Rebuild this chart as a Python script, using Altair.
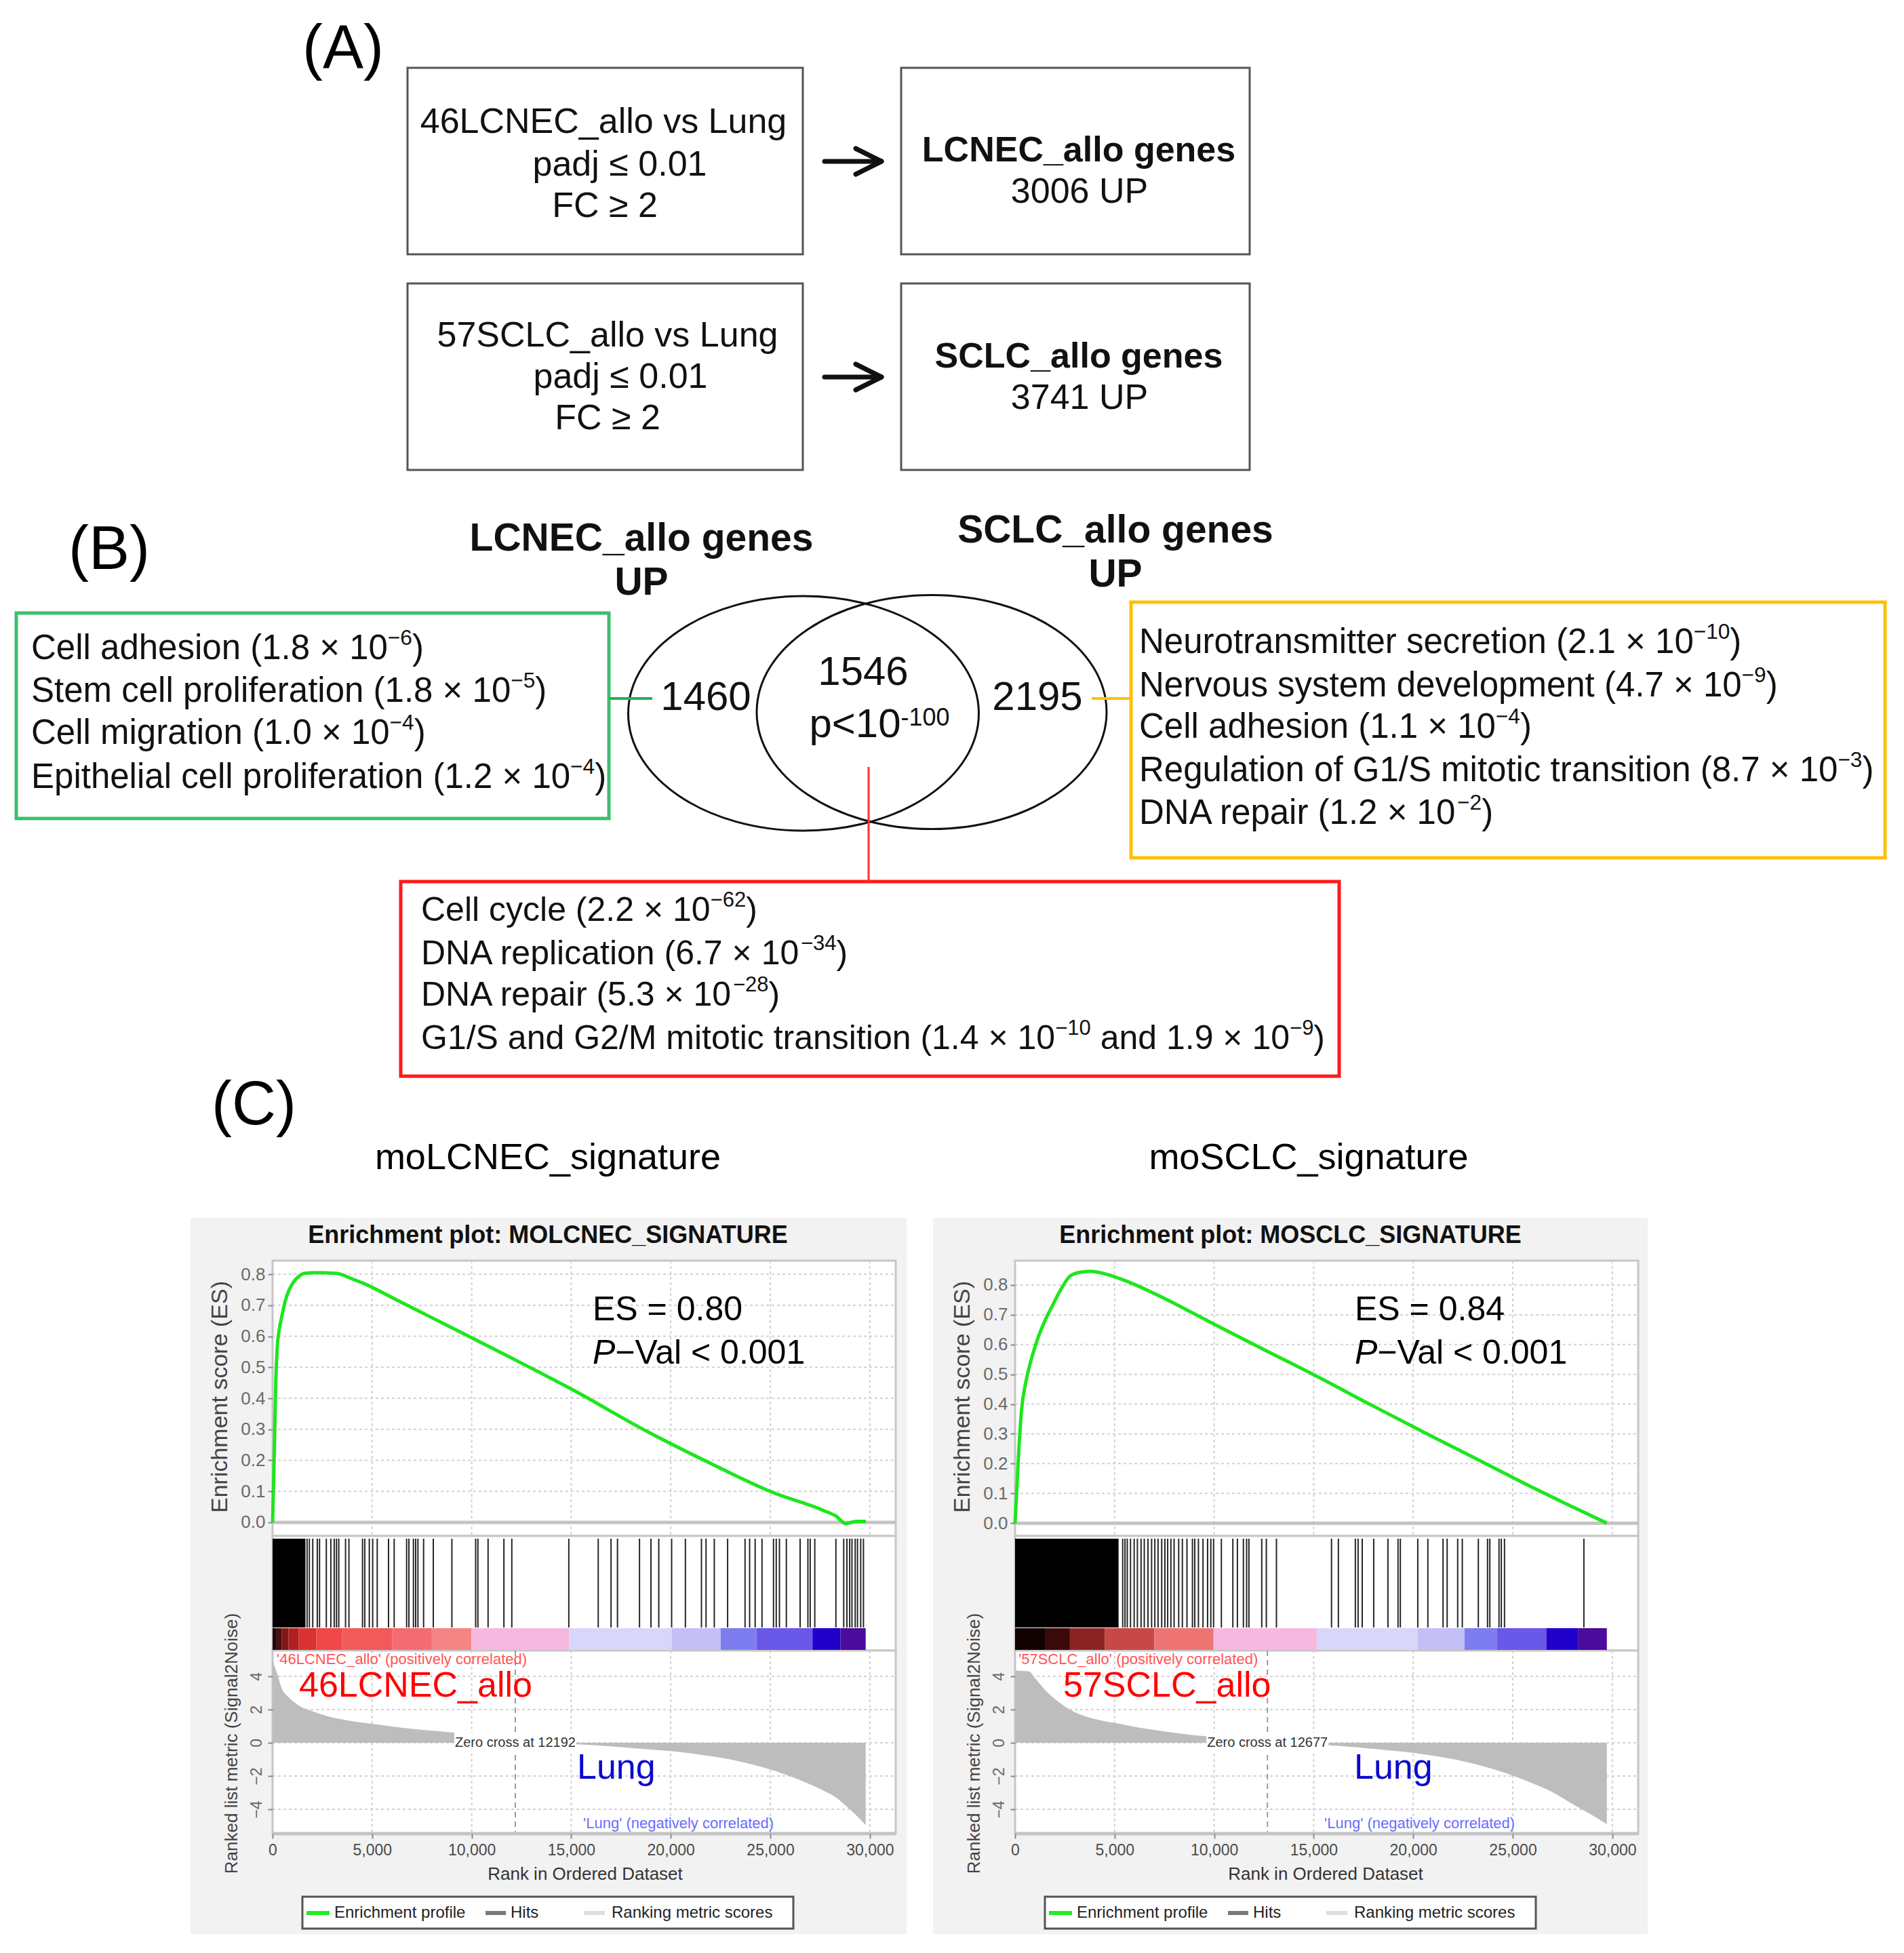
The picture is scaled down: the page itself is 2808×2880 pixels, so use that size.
import altair as alt
import pandas as pd

W, H, M = 2792, 2864, 8
FONT = "Liberation Sans, Arial, Helvetica, sans-serif"

# ===================== DATA =====================
# Panel A
A_QUERY_1 = ["46LCNEC_allo vs Lung", "padj ≤ 0.01", "FC ≥ 2"]
A_QUERY_2 = ["57SCLC_allo vs Lung", "padj ≤ 0.01", "FC ≥ 2"]
A_RESULT_NAMES = ["LCNEC_allo genes", "SCLC_allo genes"]
A_RESULT_COUNTS = ["3006 UP", "3741 UP"]

# Panel B
B_SET_NAMES = ["LCNEC_allo genes", "SCLC_allo genes"]
B_COUNTS = ["1460", "1546", "2195"]
B_P = "p<10^{-100}"
B_GO_LCNEC = ["Cell adhesion (1.8 × 10^{−6})",
              "Stem cell proliferation (1.8 × 10^{−5})",
              "Cell migration (1.0 × 10^{−4})",
              "Epithelial cell proliferation (1.2 × 10^{−4})"]
B_GO_SCLC = ["Neurotransmitter secretion (2.1 × 10^{−10})",
             "Nervous system development (4.7 × 10^{−9})",
             "Cell adhesion (1.1 × 10^{−4})",
             "Regulation of G1/S mitotic transition (8.7 × 10^{−3})",
             "DNA repair (1.2 × 10^{−2})"]
B_GO_SHARED = ["Cell cycle (2.2 × 10^{−62})",
               "DNA replication (6.7 × 10^{−34})",
               "DNA repair (5.3 × 10^{−28})",
               "G1/S and G2/M mitotic transition (1.4 × 10^{−10} and 1.9 × 10^{−9})"]

# Panel C
C_HEADERS = ["moLCNEC_signature", "moSCLC_signature"]
C_TITLES = ["Enrichment plot: MOLCNEC_SIGNATURE", "Enrichment plot: MOSCLC_SIGNATURE"]
C_ES_TEXT = ["ES = 0.80", "ES = 0.84"]
C_GROUPS = ["46LCNEC_allo", "57SCLC_allo"]
C_ZERO_CROSS = [12192, 12677]

X_TICKS = [0, 5000, 10000, 15000, 20000, 25000, 30000]
ES_TICKS = [0.0, 0.1, 0.2, 0.3, 0.4, 0.5, 0.6, 0.7, 0.8]
MET_TICKS = [-4, -2, 0, 2, 4]

L_ES_RANK = [0, 60, 110, 160, 230, 330, 450, 620, 800, 1050, 1300, 1600, 2200, 3200, 4000,
             4600, 6000, 8000, 9700, 12000, 15000, 18900, 22000, 25100, 27600, 28300, 28800,
             29300, 29800]
L_ES_VAL = [0.0, 0.15, 0.30, 0.45, 0.56, 0.62, 0.66, 0.71, 0.745, 0.775, 0.792, 0.803, 0.805,
            0.803, 0.785, 0.77, 0.725, 0.66, 0.605, 0.53, 0.43, 0.29, 0.19, 0.097, 0.04, 0.02,
            -0.004, 0.003, 0.003]
R_ES_RANK = [0, 100, 200, 335, 500, 681, 900, 1142, 1500, 1834, 2300, 2756, 3200, 3794, 4500,
             5522, 7500, 9671, 12300, 14970, 18000, 21195, 23500, 25806, 28000, 29725]
R_ES_VAL = [0.0, 0.13, 0.26, 0.386, 0.46, 0.516, 0.57, 0.621, 0.68, 0.725, 0.785, 0.83, 0.842,
            0.846, 0.838, 0.815, 0.755, 0.68, 0.59, 0.50, 0.393, 0.283, 0.205, 0.126, 0.055, 0.0]

L_DENSE = [0, 1650]
L_HITS = [1733, 1847, 2017, 2245, 2358, 2699, 2926, 3097, 3210, 3324, 3665, 3835, 4517, 4630,
          4858, 5028, 5256, 5824, 6108, 6733, 6846, 7074, 7187, 7301, 7585, 8073, 9006, 10200,
          10313, 10824, 11619, 12017, 14880, 16356, 17000, 17324, 18430, 19006, 19398, 20044,
          20735, 21542, 21772, 22187, 22856, 23732, 23962, 24239, 24584, 25161, 25299, 25460,
          25806, 26497, 26889, 27004, 27235, 28295, 28687, 28849, 28987, 29102, 29264, 29380,
          29541, 29679]
R_DENSE = [0, 5200]
R_HITS = [5407, 5522, 5637, 5799, 5983, 6144, 6329, 6490, 6675, 6859, 7020, 7182, 7366, 7527,
          7666, 7827, 7988, 8219, 8403, 8634, 8910, 9025, 9210, 9440, 9671, 9832, 9971, 10363,
          10939, 11169, 11469, 11630, 11746, 12391, 12621, 13129, 15895, 16240, 17093, 17231,
          17439, 18015, 18730, 19236, 19352, 20228, 20735, 21496, 21703, 22233, 22464, 23270,
          23732, 23847, 24308, 24423, 24584, 28572]

L_BAR_START = [0, 200, 450, 800, 1300, 2200, 3500, 6000, 8000, 9990, 14900, 20044, 22510,
               24307, 27119, 28525]
L_BAR_END = [200, 450, 800, 1300, 2200, 3500, 6000, 8000, 9990, 14900, 20044, 22510, 24307,
             27119, 28525, 29790]
L_BAR_COLOR = ["#1e0404", "#4a0d0d", "#801616", "#b02020", "#d83232", "#f04848", "#f25a5a",
               "#f46c72", "#f58585", "#f7b8df", "#d8d6fa", "#c4c0f5", "#7d7df0", "#6a58e8",
               "#2200cc", "#4b0b9b"]
R_BAR_START = [0, 1500, 2756, 4500, 7000, 9971, 15158, 20228, 22579, 24193, 26682, 28296]
R_BAR_END = [1500, 2756, 4500, 7000, 9971, 15158, 20228, 22579, 24193, 26682, 28296, 29725]
R_BAR_COLOR = ["#120202", "#3a0a0a", "#8a2424", "#c84848", "#ee7474", "#f7b8df", "#d8d6fa",
               "#c4c0f5", "#7d7df0", "#6a58e8", "#2200cc", "#4b0b9b"]

L_MET_RANK = [0, 100, 220, 450, 800, 1370, 2000, 2750, 4000, 5060, 6200, 7370, 8300, 9200,
              10500, 11500, 12192, 13000, 15430, 17000, 18890, 20000, 21200, 22400, 23500,
              24700, 25800, 26800, 27650, 28300, 28800, 29300, 29790]
L_MET_VAL = [5.0, 4.6, 4.2, 3.3, 2.75, 2.2, 1.9, 1.6, 1.3, 1.13, 0.95, 0.8, 0.7, 0.6, 0.42,
             0.25, 0.0, -0.05, -0.1, -0.22, -0.4, -0.5, -0.67, -0.88, -1.13, -1.5, -1.93,
             -2.4, -2.87, -3.3, -3.8, -4.35, -4.95]
R_MET_RANK = [0, 700, 1000, 1600, 2200, 2750, 3500, 4300, 5060, 6200, 7370, 8500, 9670, 10800,
              11900, 12677, 13500, 15430, 17200, 18890, 20000, 21200, 22400, 23500, 24700,
              25800, 27000, 28100, 28900, 29725]
R_MET_VAL = [4.35, 4.3, 3.9, 3.06, 2.45, 2.0, 1.6, 1.35, 1.18, 0.92, 0.7, 0.52, 0.38, 0.25, 0.1,
             0.0, -0.05, -0.12, -0.28, -0.47, -0.6, -0.82, -1.08, -1.41, -1.85, -2.35, -2.98,
             -3.76, -4.3, -4.9]

LEGEND_ITEMS = ["Enrichment profile", "Hits", "Ranking metric scores"]

# ===================== HELPERS =====================
AW = {' ': 278, '(': 333, ')': 333, '.': 278, ',': 278, '×': 584, '−': 584, '-': 333,
      '_': 556, '<': 584, '=': 584, '/': 278, '≤': 549, '≥': 549, "'": 191,
      'A': 667, 'B': 667, 'C': 722, 'D': 722, 'E': 667, 'F': 611, 'G': 778, 'H': 722,
      'I': 278, 'J': 500, 'K': 667, 'L': 556, 'M': 833, 'N': 722, 'O': 778, 'P': 667,
      'Q': 778, 'R': 722, 'S': 667, 'T': 611, 'U': 722, 'V': 667, 'W': 944, 'X': 667,
      'Y': 667, 'Z': 611, 'a': 556, 'b': 556, 'c': 500, 'd': 556, 'e': 556, 'f': 278,
      'g': 556, 'h': 556, 'i': 222, 'j': 222, 'k': 500, 'l': 222, 'm': 833, 'n': 556,
      'o': 556, 'p': 556, 'q': 556, 'r': 333, 's': 500, 't': 278, 'u': 556, 'v': 500,
      'w': 722, 'x': 500, 'y': 500, 'z': 500}


def tw(s, size):
    return sum(AW.get(ch, 556) for ch in s) * size / 1000.0


def rich(line, x, y, size, color="#000000", anchor="left", sup_scale=0.62, raise_frac=0.3):
    segs, buf, i = [], "", 0
    while i < len(line):
        if line.startswith("^{", i):
            if buf:
                segs.append((buf, False))
                buf = ""
            j = line.index("}", i)
            segs.append((line[i + 2:j], True))
            i = j + 1
        else:
            buf += line[i]
            i += 1
    if buf:
        segs.append((buf, False))
    total = sum(tw(t, size * sup_scale if s else size) for t, s in segs)
    cur = x - total / 2 if anchor == "center" else x
    rows = []
    for t, s in segs:
        sz = size * sup_scale if s else size
        lead = len(t) - len(t.lstrip(" "))
        cur += tw(" " * lead, sz)
        body = t.lstrip(" ")
        rows.append(dict(x=cur, y=y - (raise_frac * size if s else 0), text=body, size=sz,
                         color=color))
        cur += tw(body, sz)
    return rows


CX = alt.Scale(domain=[M, W + M], range=[0, W], nice=False, zero=False)
CY = alt.Scale(domain=[M, H + M], range=[0, H], nice=False, zero=False)


def cx(f):
    return alt.X(f, type="quantitative", scale=CX, axis=None)


def cy(f):
    return alt.Y(f, type="quantitative", scale=CY, axis=None)


def rects(rows, **mk):
    df = pd.DataFrame(rows, columns=["x1", "y1", "x2", "y2"])
    return alt.Chart(df).mark_rect(**mk).encode(x=cx("x1"), x2=alt.X2("x2"), y=cy("y1"),
                                                y2=alt.Y2("y2"))


def rules(rows, **mk):
    df = pd.DataFrame(rows, columns=["x1", "y1", "x2", "y2"])
    return alt.Chart(df).mark_rule(**mk).encode(x=cx("x1"), x2=alt.X2("x2"), y=cy("y1"),
                                                y2=alt.Y2("y2"))


def texts(rows, align="left", weight="normal", style="normal", angle=0):
    df = pd.DataFrame(rows)
    return alt.Chart(df).mark_text(align=align, baseline="middle", font=FONT, fontWeight=weight,
                                   fontStyle=style, angle=angle).encode(
        x=cx("x"), y=cy("y"), text="text:N",
        size=alt.Size("size:Q", scale=None), color=alt.Color("color:N", scale=None))


units = []
T_left, T_center, T_bold, T_italic, T_rot = [], [], [], [], []

# ===================== PANEL C: GSEA =====================
X_MAX = 31300
ES_TOP, ES_BOT = 1859, 2265
HIT_TOP, HIT_BOT = 2269, 2400
BAR_TOP, BAR_BOT = 2401, 2433
MET_TOP, MET_BOT = 2434, 2704
MET_DOMAIN = [-5.47, 5.55]

PANELS = [
    dict(dx=0, es_dom=[-0.044, 0.844], es_rank=L_ES_RANK, es_val=L_ES_VAL, dense=L_DENSE,
         hits=L_HITS, bs=L_BAR_START, be=L_BAR_END, bc=L_BAR_COLOR, mr=L_MET_RANK,
         mv=L_MET_VAL, zc=C_ZERO_CROSS[0], head_x=808, title_x=808, es_x=874,
         grp=C_GROUPS[0], grp_x=441, lung_x=851, neg_x=860, xt_x=863, pos_x=408),
    dict(dx=1095, es_dom=[-0.043, 0.882], es_rank=R_ES_RANK, es_val=R_ES_VAL, dense=R_DENSE,
         hits=R_HITS, bs=R_BAR_START, be=R_BAR_END, bc=R_BAR_COLOR, mr=R_MET_RANK,
         mv=R_MET_VAL, zc=C_ZERO_CROSS[1], head_x=1930, title_x=1903, es_x=1998,
         grp=C_GROUPS[1], grp_x=1568, lung_x=1997, neg_x=1953, xt_x=1955, pos_x=1502),
]

# panel backgrounds & plot frames
bg_rows, frame_rows = [], []
for P in PANELS:
    dx = P["dx"]
    x0, x1 = 402 + dx, 1321 + dx
    bg_rows.append([281 + dx, 1796, 1337 + dx if dx == 0 else 2430, 2852])
    frame_rows += [[x0, ES_TOP, x1, ES_BOT], [x0, ES_BOT, x1, MET_TOP], [x0, MET_TOP, x1, MET_BOT]]
units.append(rects(bg_rows, fill="#f2f2f2"))
units.append(rects(frame_rows, fill="white", stroke="#c6c6c6", strokeWidth=3))

grid_mk = dict(color="#d2d2d2", strokeDash=[4, 4], strokeWidth=2)
label_axis_common = dict(labelFont=FONT, tickColor="#8a8a8a", tickWidth=2, tickSize=7,
                         domain=False, grid=False, title=None, labelOverlap=False,
                         labelFlush=False, labelBound=False, zindex=5)

for k, P in enumerate(PANELS):
    dx = P["dx"]
    x0, x1 = 402 + dx, 1321 + dx

    def xs():
        return alt.Scale(domain=[0, X_MAX], range=[x0 - M, x1 - M], nice=False, zero=False)

    def ys_es():
        return alt.Scale(domain=P["es_dom"], range=[ES_BOT - M, ES_TOP - M], nice=False,
                         zero=False)

    def ys_m():
        return alt.Scale(domain=MET_DOMAIN, range=[MET_BOT - M, MET_TOP - M], nice=False,
                         zero=False)

    # ES grid
    units.append(alt.Chart(pd.DataFrame({"g": X_TICKS[1:]})).mark_rule(**grid_mk).encode(
        x=alt.X("g:Q", scale=xs(), axis=None), y=alt.value(ES_TOP - M), y2=alt.value(ES_BOT - M)))
    units.append(alt.Chart(pd.DataFrame({"g": ES_TICKS[1:]})).mark_rule(**grid_mk).encode(
        y=alt.Y("g:Q", scale=ys_es(), axis=None), x=alt.value(x0 - M), x2=alt.value(x1 - M)))
    units.append(alt.Chart(pd.DataFrame({"g": [0.0]})).mark_rule(color="#c4c4c4", strokeWidth=5).encode(
        y=alt.Y("g:Q", scale=ys_es(), axis=None), x=alt.value(x0 - M), x2=alt.value(x1 - M)))
    # ES curve with y axis
    es_axis = alt.Axis(orient="left", offset=-(x0 - M), values=ES_TICKS, format=".1f",
                       labelFontSize=26, labelColor="#6a6a6a", labelPadding=4,
                       **label_axis_common)
    units.append(alt.Chart(pd.DataFrame({"rank": P["es_rank"], "es": P["es_val"]})).mark_line(
        color="#1ee61e", strokeWidth=5, interpolate="monotone").encode(
        x=alt.X("rank:Q", scale=xs(), axis=None),
        y=alt.Y("es:Q", scale=ys_es(), axis=es_axis)))
    # hits
    units.append(alt.Chart(pd.DataFrame({"s": [P["dense"][0]], "e": [P["dense"][1]]})).mark_rect(
        color="#000000").encode(x=alt.X("s:Q", scale=xs(), axis=None), x2=alt.X2("e"),
                                 y=alt.value(HIT_TOP - M), y2=alt.value(HIT_BOT - M)))
    units.append(alt.Chart(pd.DataFrame({"r": P["hits"]})).mark_rule(
        color="#000000", strokeWidth=2, opacity=0.85).encode(
        x=alt.X("r:Q", scale=xs(), axis=None), y=alt.value(HIT_TOP - M), y2=alt.value(HIT_BOT - M)))
    # colour bar
    units.append(alt.Chart(pd.DataFrame({"s": P["bs"], "e": P["be"], "c": P["bc"]})).mark_rect().encode(
        x=alt.X("s:Q", scale=xs(), axis=None), x2=alt.X2("e"),
        y=alt.value(BAR_TOP - M), y2=alt.value(BAR_BOT - M), color=alt.Color("c:N", scale=None)))
    # metric grid
    units.append(alt.Chart(pd.DataFrame({"g": X_TICKS[1:]})).mark_rule(**grid_mk).encode(
        x=alt.X("g:Q", scale=xs(), axis=None), y=alt.value(MET_TOP - M), y2=alt.value(MET_BOT - M)))
    units.append(alt.Chart(pd.DataFrame({"g": MET_TICKS})).mark_rule(**grid_mk).encode(
        y=alt.Y("g:Q", scale=ys_m(), axis=None), x=alt.value(x0 - M), x2=alt.value(x1 - M)))
    # metric area with axes
    x_axis = alt.Axis(orient="bottom", offset=(MET_BOT - M) - H, values=X_TICKS, format=",d",
                      labelFontSize=23, labelColor="#4a4a4a", labelPadding=6,
                      **label_axis_common)
    m_axis = alt.Axis(orient="left", offset=-(x0 - M), values=MET_TICKS, format="d",
                      labelFontSize=23, labelColor="#6a6a6a", labelPadding=5, labelAngle=270,
                      labelAlign="center", labelBaseline="bottom", **label_axis_common)
    units.append(alt.Chart(pd.DataFrame({"rank": P["mr"], "m": P["mv"]})).mark_area(
        color="#bdbdbd", interpolate="monotone").encode(
        x=alt.X("rank:Q", scale=xs(), axis=x_axis),
        y=alt.Y("m:Q", scale=ys_m(), axis=m_axis), y2=alt.datum(0)))
    # zero-cross dashed line + label
    zdf = pd.DataFrame({"z": [P["zc"]], "zero": [0.0],
                        "label": ["Zero cross at " + str(P["zc"])]})
    units.append(alt.Chart(zdf).mark_rule(color="#9a9a9a", strokeDash=[8, 6], strokeWidth=2).encode(
        x=alt.X("z:Q", scale=xs(), axis=None), y=alt.value(MET_TOP - M), y2=alt.value(MET_BOT - M)))
    units.append(alt.Chart(zdf).mark_point(
        shape="M -1 -0.17 L 1 -0.17 L 1 0.17 L -1 0.17 Z", filled=True, color="white",
        opacity=1, size=180 * 180, strokeWidth=0).encode(
        x=alt.X("z:Q", scale=xs(), axis=None), y=alt.Y("zero:Q", scale=ys_m(), axis=None)))
    units.append(alt.Chart(zdf).mark_text(font=FONT, fontSize=20, color="#333333",
                                          align="center", baseline="middle").encode(
        x=alt.X("z:Q", scale=xs(), axis=None), y=alt.Y("zero:Q", scale=ys_m(), axis=None),
        text="label:N"))

    # texts of the panel
    T_center.append(dict(x=P["head_x"], y=1708, text=C_HEADERS[k], size=54, color="#000000"))
    T_bold.append(dict(x=P["title_x"], y=1822, text=C_TITLES[k], size=36, color="#111111"))
    T_left.append(dict(x=P["es_x"], y=1932, text=C_ES_TEXT[k], size=50, color="#000000"))
    T_italic.append(dict(x=P["es_x"], y=1996, text="P", size=50, color="#000000"))
    T_left.append(dict(x=P["es_x"] + tw("P", 50), y=1996, text="−Val < 0.001", size=50,
                       color="#000000"))
    T_rot.append(dict(x=325 + dx, y=2060, text="Enrichment score (ES)", size=34, color="#444444"))
    T_rot.append(dict(x=342 + dx, y=2571, text="Ranked list metric (Signal2Noise)", size=26,
                      color="#444444"))
    T_left.append(dict(x=P["pos_x"], y=2447, text="'" + P["grp"] + "' (positively correlated)",
                       size=22, color="#ff5555"))
    T_left.append(dict(x=P["grp_x"], y=2486, text=P["grp"], size=52, color="#ff0000"))
    T_left.append(dict(x=P["lung_x"], y=2607, text="Lung", size=52, color="#0a0acc"))
    T_left.append(dict(x=P["neg_x"], y=2689, text="'Lung' (negatively correlated)", size=22,
                       color="#6b6bff"))
    T_center.append(dict(x=P["xt_x"], y=2764, text="Rank in Ordered Dataset", size=26,
                         color="#333333"))

# bottom thick axis line of metric plots + legends
units.append(rules([[402, MET_BOT, 1321, MET_BOT], [1497, MET_BOT, 2416, MET_BOT]],
                   color="#c4c4c4", strokeWidth=5))
leg_box, leg_g, leg_h, leg_r = [], [], [], []
for P in PANELS:
    dx = P["dx"]
    leg_box.append([446 + dx, 2797, 1170 + dx, 2844])
    leg_g.append([452 + dx, 2821, 486 + dx, 2821])
    leg_h.append([716 + dx, 2821, 746 + dx, 2821])
    leg_r.append([861 + dx, 2821, 892 + dx, 2821])
    for txt, lx in zip(LEGEND_ITEMS, [493, 753, 902]):
        T_left.append(dict(x=lx + dx, y=2821, text=txt, size=24, color="#222222"))
units.append(rects(leg_box, fill="white", stroke="#555555", strokeWidth=3))
units.append(rules(leg_g, color="#22ee22", strokeWidth=6))
units.append(rules(leg_h, color="#7a7a7a", strokeWidth=6))
units.append(rules(leg_r, color="#dddddd", strokeWidth=6))

# ===================== PANEL A =====================
units.append(rects([[601, 100, 1184, 375], [1329, 100, 1843, 375],
                    [601, 418, 1184, 693], [1329, 418, 1843, 693]],
                   fill="white", stroke="#555555", strokeWidth=3))
arrow_rows = []
for ay in [238, 556]:
    arrow_rows += [[1216, ay, 1295, ay], [1262, ay - 19, 1300, ay], [1262, ay + 19, 1300, ay]]
units.append(rules(arrow_rows, color="#111111", strokeWidth=7, strokeCap="round"))

for txt, (qx, qy) in zip(A_QUERY_1, [(890, 180), (914, 243), (892, 304)]):
    T_center.append(dict(x=qx, y=qy, text=txt, size=52, color="#111111"))
for txt, (qx, qy) in zip(A_QUERY_2, [(896, 495), (915, 556), (896, 617)]):
    T_center.append(dict(x=qx, y=qy, text=txt, size=52, color="#111111"))
for txt, qy in zip(A_RESULT_NAMES, [222, 526]):
    T_bold.append(dict(x=1591, y=qy, text=txt, size=52, color="#111111"))
for txt, qy in zip(A_RESULT_COUNTS, [283, 587]):
    T_center.append(dict(x=1592, y=qy, text=txt, size=52, color="#111111"))
for txt, px, py in [("(A)", 446, 73), ("(B)", 101, 812), ("(C)", 312, 1631)]:
    T_left.append(dict(x=px, y=py, text=txt, size=90, color="#000000"))

# ===================== PANEL B =====================
ELL = ("M -1 0 C -1 -0.3695 -0.5523 -0.669 0 -0.669 C 0.5523 -0.669 1 -0.3695 1 0 "
       "C 1 0.3695 0.5523 0.669 0 0.669 C -0.5523 0.669 -1 0.3695 -1 0 Z")
units.append(alt.Chart(pd.DataFrame({"x": [1185, 1374], "y": [1052, 1050],
                                     "s": [517 ** 2, 516 ** 2]})).mark_point(
    shape=ELL, filled=False, color="#111111", strokeWidth=3, opacity=1).encode(
    x=cx("x"), y=cy("y"), size=alt.Size("s:Q", scale=None)))
units.append(rects([[24, 904, 898, 1207]], fill="white", stroke="#3cbf6e", strokeWidth=5))
units.append(rects([[1668, 888, 2780, 1265]], fill="white", stroke="#ffc000", strokeWidth=5))
units.append(rects([[591, 1300, 1975, 1587]], fill="white", stroke="#ff1a1a", strokeWidth=5))
units.append(rules([[898, 1030, 962, 1030]], color="#22b05a", strokeWidth=4))
units.append(rules([[1610, 1030, 1668, 1030]], color="#ffc000", strokeWidth=4))
units.append(rules([[1281, 1131, 1281, 1300]], color="#ff3030", strokeWidth=3))

for txt, (hx, hy) in zip(B_SET_NAMES, [(946, 795), (1645, 783)]):
    T_bold.append(dict(x=hx, y=hy, text=txt, size=57, color="#111111"))
    T_bold.append(dict(x=hx, y=hy + 65, text="UP", size=57, color="#111111"))
for txt, (vx, vy) in zip(B_COUNTS, [(1041, 1029), (1273, 992), (1530, 1029)]):
    T_center.append(dict(x=vx, y=vy, text=txt, size=60, color="#111111"))
T_left += rich(B_P, 1297, 1069, 60, "#111111", anchor="center", sup_scale=0.6, raise_frac=0.17)

for txt, gy in zip(B_GO_LCNEC, [957, 1020, 1082, 1147]):
    T_left += rich(txt, 46, gy, 51, "#111111")
for txt, gy in zip(B_GO_SCLC, [948, 1012, 1073, 1137, 1200]):
    T_left += rich(txt, 1680, gy, 51, "#111111")
for txt, gy in zip(B_GO_SHARED, [1343, 1407, 1468, 1532]):
    T_left += rich(txt, 621, gy, 50, "#111111")

# ===================== TEXT UNITS =====================
units.append(texts(T_left, align="left"))
units.append(texts(T_center, align="center"))
units.append(texts(T_bold, align="center", weight="bold"))
units.append(texts(T_italic, align="left", style="italic"))
units.append(texts(T_rot, align="center", angle=270))

chart = alt.layer(*units).resolve_scale(x="independent", y="independent").properties(
    width=W, height=H, padding=0, background="white",
    autosize=alt.AutoSizeParams(type="none")
).configure_view(stroke=None)

chart.save("out.html", embed_options={"renderer": "svg", "actions": False})
